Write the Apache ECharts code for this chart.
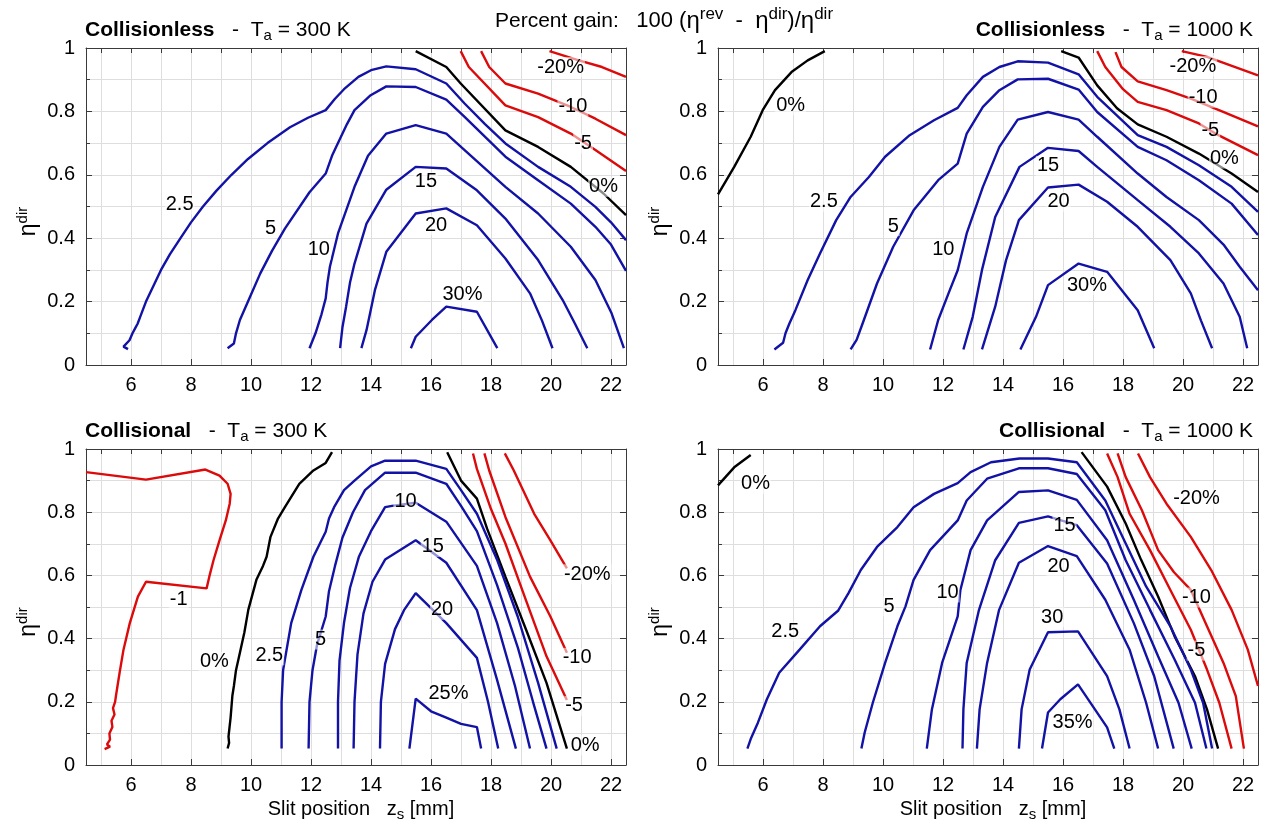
<!DOCTYPE html>
<html>
<head>
<meta charset="utf-8">
<script src="https://cdn.jsdelivr.net/npm/echarts@6/dist/echarts.min.js"></script>
<style>
  html, body { margin: 0; padding: 0; background: #fff; }
  #chart { width: 1267px; height: 833px; }
</style>
</head>
<body>
<div id="chart"></div>
<script>
// Contour lines of the percent gain 100 (eta_rev - eta_dir) / eta_dir
// Each point: [slit position z_s (mm), eta_dir]

// ---- Collisionless, Ta = 300 K ----
const tl_m20 = [[19.95,0.99],[20.9,0.962],[21.7,0.94],[22.5,0.909]];
const tl_m10 = [[17.67,0.99],[17.94,0.94],[18.48,0.888],[19.57,0.856],[20.66,0.814],[21.48,0.777],[22.5,0.725]];
const tl_m5  = [[16.99,0.99],[17.26,0.94],[18.48,0.819],[19.57,0.782],[20.66,0.73],[21.48,0.678],[22.5,0.612]];
const tl_0   = [[15.49,0.99],[16.51,0.94],[16.99,0.888],[18.48,0.74],[19.57,0.688],[20.66,0.625],[21.75,0.541],[22.5,0.473]];
const tl_2_5 = [[5.9,0.05],[5.75,0.058],[5.95,0.078],[6.05,0.1],[6.15,0.118],[6.22,0.13],[6.3,0.15],[6.42,0.18],[6.5,0.2],[6.75,0.25],[7.0,0.3],[7.3,0.35],[7.65,0.4],[8.0,0.45],[8.4,0.5],[8.85,0.55],[9.35,0.6],[9.9,0.65],[10.55,0.7],[11.3,0.75],[11.9,0.78],[12.49,0.804],[12.8,0.84],[13.1,0.87],[13.58,0.909],[14.0,0.93],[14.51,0.942],[15.49,0.933],[16.51,0.888],[17.12,0.825],[17.8,0.76],[18.48,0.699],[19.57,0.625],[20.66,0.562],[21.48,0.499],[22.0,0.45],[22.5,0.394]];
const tl_5   = [[9.22,0.053],[9.43,0.068],[9.5,0.1],[9.63,0.142],[9.9,0.2],[10.31,0.289],[10.7,0.36],[11.13,0.43],[11.95,0.545],[12.49,0.604],[12.7,0.66],[12.9,0.7],[13.2,0.76],[13.45,0.804],[13.99,0.851],[14.51,0.879],[15.49,0.877],[16.51,0.837],[17.12,0.783],[18.48,0.657],[19.57,0.583],[20.66,0.509],[21.48,0.436],[22.0,0.38],[22.5,0.297]];
const tl_10  = [[11.95,0.053],[12.15,0.1],[12.35,0.16],[12.49,0.21],[12.55,0.26],[12.63,0.31],[12.9,0.415],[13.45,0.562],[13.9,0.66],[14.51,0.73],[15.49,0.757],[16.51,0.73],[17.12,0.678],[18.48,0.562],[19.57,0.478],[20.66,0.373],[21.48,0.268],[22.02,0.163],[22.43,0.053]];
const tl_15  = [[12.97,0.053],[13.05,0.12],[13.17,0.184],[13.3,0.26],[13.45,0.32],[13.85,0.446],[14.51,0.553],[15.49,0.625],[16.51,0.62],[17.53,0.551],[18.48,0.462],[19.57,0.331],[20.39,0.205],[20.8,0.13],[21.21,0.053]];
const tl_20  = [[13.68,0.053],[13.85,0.11],[14.13,0.236],[14.51,0.357],[15.49,0.478],[16.51,0.494],[17.53,0.441],[18.48,0.336],[19.3,0.226],[19.7,0.14],[20.05,0.053]];
const tl_30  = [[15.33,0.053],[15.49,0.089],[16.03,0.142],[16.51,0.184],[17.53,0.168],[18.21,0.053]];
const tlLabels = [[20.32,0.94,'-20%'],[20.73,0.816,'-10'],[21.07,0.699,'-5'],[21.75,0.562,'0%'],[7.62,0.507,'2.5'],[10.65,0.431,'5'],[12.26,0.364,'10'],[15.83,0.578,'15'],[16.17,0.441,'20'],[17.05,0.221,'30%']];

// ---- Collisionless, Ta = 1000 K ----
const tr_m20 = [[19.96,0.99],[20.8,0.972],[22.5,0.914]];
const tr_m10 = [[17.75,0.987],[17.95,0.94],[18.49,0.895],[19.45,0.867],[20.26,0.84],[21.3,0.8],[22.5,0.753]];
const tr_m5  = [[17.14,0.99],[17.41,0.94],[18.0,0.87],[18.49,0.83],[19.45,0.804],[20.53,0.762],[21.08,0.73],[22.5,0.662]];
const tr_0a  = [[4.5,0.538],[5.04,0.625],[5.59,0.72],[5.99,0.804],[6.4,0.867],[6.95,0.924],[7.49,0.961],[8.06,0.99]];
const tr_0b  = [[15.94,0.99],[16.52,0.97],[17.14,0.882],[17.8,0.81],[18.49,0.759],[19.45,0.72],[20.53,0.667],[21.62,0.604],[22.5,0.546]];
const tr_2_5 = [[6.38,0.049],[6.67,0.07],[6.75,0.1],[6.88,0.131],[7.08,0.173],[7.49,0.268],[7.9,0.352],[8.44,0.457],[8.92,0.53],[9.53,0.593],[10.07,0.657],[10.89,0.725],[11.7,0.772],[12.49,0.811],[12.79,0.851],[13.33,0.909],[13.88,0.94],[14.49,0.958],[15.5,0.954],[16.52,0.917],[17.14,0.846],[18.49,0.725],[19.45,0.688],[20.53,0.63],[21.62,0.562],[22.5,0.483]];
const tr_5   = [[8.92,0.049],[9.12,0.079],[9.32,0.131],[9.8,0.257],[10.34,0.373],[11.02,0.488],[11.84,0.583],[12.49,0.635],[12.79,0.73],[13.33,0.814],[13.88,0.867],[14.49,0.901],[15.5,0.903],[16.52,0.869],[17.14,0.798],[18.49,0.688],[19.45,0.646],[20.53,0.583],[21.62,0.509],[22.5,0.41]];
const tr_10  = [[11.57,0.049],[11.84,0.142],[12.2,0.23],[12.49,0.299],[12.79,0.415],[13.33,0.562],[13.88,0.688],[14.49,0.774],[15.5,0.798],[16.52,0.774],[17.14,0.72],[18.49,0.604],[19.45,0.53],[20.53,0.457],[21.35,0.38],[21.89,0.31],[22.5,0.236]];
const tr_15  = [[12.68,0.049],[12.99,0.152],[13.3,0.3],[13.74,0.467],[14.55,0.625],[15.5,0.685],[16.52,0.675],[17.14,0.625],[18.49,0.52],[19.58,0.436],[20.53,0.352],[21.35,0.257],[21.89,0.152],[22.14,0.053]];
const tr_20  = [[13.3,0.049],[13.74,0.184],[14.1,0.33],[14.53,0.457],[15.5,0.56],[16.52,0.569],[17.47,0.515],[18.49,0.436],[19.58,0.331],[20.26,0.226],[20.6,0.14],[20.97,0.053]];
const tr_30  = [[14.58,0.049],[15.1,0.152],[15.5,0.252],[16.52,0.32],[17.47,0.294],[18.49,0.173],[19.04,0.053]];
const trLabels = [[6.92,0.82,'0%'],[21.38,0.651,'0%'],[20.91,0.74,'-5'],[20.67,0.843,'-10'],[20.33,0.943,'-20%'],[8.03,0.515,'2.5'],[10.34,0.438,'5'],[12.01,0.364,'10'],[15.5,0.628,'15'],[15.85,0.515,'20'],[16.8,0.252,'30%']];

// ---- Collisional, Ta = 300 K ----
const bl_m1  = [[4.5,0.927],[6.5,0.903],[8.48,0.935],[8.95,0.916],[9.22,0.89],[9.32,0.858],[9.29,0.827],[9.16,0.774],[8.95,0.711],[8.75,0.648],[8.61,0.596],[8.52,0.559],[6.5,0.58],[6.23,0.533],[5.96,0.449],[5.75,0.365],[5.62,0.292],[5.55,0.25],[5.5,0.22],[5.47,0.2],[5.4,0.18],[5.45,0.16],[5.35,0.14],[5.38,0.12],[5.28,0.1],[5.3,0.08],[5.2,0.065],[5.3,0.058],[5.12,0.05]];
const bl_0a  = [[9.22,0.052],[9.27,0.07],[9.25,0.09],[9.32,0.15],[9.38,0.22],[9.43,0.25],[9.5,0.3],[9.63,0.355],[9.78,0.42],[9.91,0.491],[10.18,0.586],[10.4,0.63],[10.52,0.659],[10.65,0.722],[10.9,0.78],[11.13,0.816],[11.61,0.89],[12.08,0.932],[12.49,0.956],[12.7,0.99]];
const bl_0b  = [[16.54,0.99],[17.0,0.9],[17.53,0.843],[17.87,0.748],[18.48,0.596],[19.17,0.428],[19.85,0.26],[20.53,0.052]];
const bl_m5  = [[17.4,0.986],[17.53,0.937],[18.0,0.81],[18.48,0.701],[19.17,0.52],[19.85,0.344],[20.53,0.206]];
const bl_m10 = [[17.78,0.986],[17.94,0.932],[18.48,0.785],[19.3,0.596],[19.98,0.47],[20.53,0.355]];
const bl_m20 = [[18.46,0.986],[18.76,0.932],[19.44,0.795],[19.98,0.711],[20.53,0.622]];
const bl_2_5 = [[11.02,0.052],[11.02,0.2],[11.07,0.3],[11.13,0.334],[11.34,0.449],[11.68,0.554],[12.08,0.659],[12.49,0.738],[12.6,0.78],[12.77,0.816],[13.1,0.87],[13.45,0.9],[14.0,0.945],[14.47,0.963],[15.49,0.963],[16.51,0.937],[17.0,0.87],[17.53,0.795],[18.21,0.648],[18.89,0.47],[19.57,0.26],[20.19,0.052]];
const bl_5   = [[11.92,0.052],[11.95,0.2],[12.05,0.3],[12.2,0.38],[12.49,0.47],[12.6,0.55],[12.8,0.63],[13.05,0.72],[13.4,0.8],[13.8,0.87],[14.47,0.925],[15.49,0.925],[16.51,0.89],[17.0,0.82],[17.53,0.74],[18.2,0.57],[18.9,0.37],[19.4,0.2],[19.85,0.052]];
const bl_10  = [[12.9,0.052],[12.9,0.2],[12.95,0.33],[13.1,0.45],[13.3,0.56],[13.6,0.66],[14.0,0.74],[14.47,0.816],[14.7,0.82],[15.49,0.83],[16.51,0.77],[17.53,0.63],[18.2,0.45],[18.8,0.25],[19.3,0.052]];
const bl_15  = [[13.42,0.052],[13.45,0.2],[13.55,0.35],[13.75,0.48],[14.05,0.58],[14.47,0.65],[15.49,0.711],[16.51,0.64],[17.53,0.49],[18.2,0.27],[18.83,0.052]];
const bl_20  = [[14.3,0.052],[14.33,0.2],[14.47,0.32],[14.8,0.43],[15.1,0.49],[15.49,0.544],[16.51,0.449],[17.53,0.339],[17.9,0.2],[18.24,0.052]];
const bl_25  = [[15.28,0.052],[15.49,0.21],[16.0,0.17],[16.51,0.15],[17.0,0.13],[17.53,0.12],[17.67,0.052]];
const blLabels = [[7.59,0.525,'-1'],[8.78,0.326,'0%'],[10.61,0.347,'2.5'],[12.32,0.397,'5'],[15.15,0.835,'10'],[16.06,0.69,'15'],[16.37,0.491,'20'],[16.58,0.227,'25%'],[21.21,0.604,'-20%'],[20.87,0.339,'-10'],[20.77,0.187,'-5'],[21.14,0.063,'0%']];

// ---- Collisional, Ta = 1000 K ----
const br_0a  = [[4.5,0.885],[5.04,0.942],[5.59,0.981]];
const br_0b  = [[16.62,0.99],[17.47,0.881],[18.09,0.764],[18.6,0.65],[19.17,0.533],[19.72,0.407],[20.4,0.281],[20.8,0.176],[21.17,0.052]];
const br_m5  = [[17.47,0.986],[17.82,0.911],[18.22,0.795],[18.9,0.68],[19.6,0.55],[20.26,0.428],[20.8,0.302],[21.21,0.197],[21.62,0.052]];
const br_m10 = [[17.82,0.986],[18.09,0.911],[18.63,0.806],[19.17,0.68],[19.7,0.61],[20.26,0.554],[20.8,0.439],[21.35,0.323],[21.76,0.218],[22.03,0.052]];
const br_m20 = [[18.5,0.986],[18.9,0.911],[19.45,0.827],[20.26,0.722],[20.94,0.617],[21.62,0.491],[22.16,0.365],[22.5,0.25]];
const br_2_5 = [[5.48,0.052],[5.59,0.082],[5.83,0.134],[6.13,0.208],[6.54,0.292],[7.22,0.365],[7.9,0.439],[8.51,0.489],[8.85,0.544],[9.26,0.617],[9.8,0.69],[10.48,0.753],[11.02,0.816],[11.7,0.858],[12.49,0.892],[12.92,0.927],[13.6,0.958],[14.55,0.97],[15.5,0.97],[16.46,0.958],[17.41,0.837],[18.09,0.701],[18.77,0.565],[19.58,0.439],[20.26,0.302],[20.67,0.197],[20.97,0.052]];
const br_5   = [[9.28,0.052],[9.39,0.103],[9.66,0.197],[10.07,0.323],[10.48,0.439],[10.75,0.502],[11.02,0.586],[11.57,0.68],[12.49,0.774],[12.79,0.837],[13.47,0.906],[14.53,0.939],[15.5,0.939],[16.46,0.921],[17.41,0.806],[18.09,0.648],[18.9,0.491],[19.72,0.334],[20.4,0.197],[20.78,0.052]];
const br_10  = [[11.46,0.052],[11.63,0.176],[11.97,0.323],[12.49,0.47],[12.58,0.554],[12.92,0.68],[13.47,0.774],[14.53,0.864],[15.5,0.869],[16.46,0.839],[17.47,0.711],[18.36,0.523],[19.17,0.344],[19.85,0.197],[20.29,0.052]];
const br_15  = [[12.65,0.052],[12.68,0.176],[12.79,0.323],[13.2,0.491],[13.74,0.648],[14.53,0.766],[15.5,0.787],[16.46,0.759],[17.47,0.638],[18.36,0.449],[19.04,0.281],[19.69,0.052]];
const br_20  = [[13.13,0.052],[13.22,0.176],[13.47,0.323],[13.87,0.491],[14.53,0.64],[15.5,0.693],[16.46,0.661],[17.41,0.523],[18.22,0.365],[18.77,0.197],[19.17,0.052]];
const br_30  = [[14.53,0.052],[14.62,0.176],[14.89,0.302],[15.5,0.42],[16.5,0.423],[17.47,0.281],[17.88,0.176],[18.22,0.052]];
const br_35  = [[15.3,0.052],[15.5,0.166],[15.91,0.208],[16.5,0.255],[17.47,0.119],[17.71,0.052]];
const brLabels = [[5.75,0.89,'0%'],[6.74,0.423,'2.5'],[10.2,0.502,'5'],[12.15,0.546,'10'],[16.05,0.759,'15'],[15.85,0.627,'20'],[15.64,0.468,'30'],[16.32,0.134,'35%'],[20.45,0.843,'-20%'],[20.45,0.53,'-10'],[20.45,0.362,'-5']];

const BLUE = '#1212a6', RED = '#dc0a0a', BLACK = '#000000';
const FONT = '"Liberation Sans", Arial, Helvetica, sans-serif';

const panels = [
  { lines: [[tl_m20,RED],[tl_m10,RED],[tl_m5,RED],[tl_0,BLACK],[tl_2_5,BLUE],[tl_5,BLUE],[tl_10,BLUE],[tl_15,BLUE],[tl_20,BLUE],[tl_30,BLUE]], labels: tlLabels },
  { lines: [[tr_m20,RED],[tr_m10,RED],[tr_m5,RED],[tr_0a,BLACK],[tr_0b,BLACK],[tr_2_5,BLUE],[tr_5,BLUE],[tr_10,BLUE],[tr_15,BLUE],[tr_20,BLUE],[tr_30,BLUE]], labels: trLabels },
  { lines: [[bl_m1,RED],[bl_0a,BLACK],[bl_0b,BLACK],[bl_m5,RED],[bl_m10,RED],[bl_m20,RED],[bl_2_5,BLUE],[bl_5,BLUE],[bl_10,BLUE],[bl_15,BLUE],[bl_20,BLUE],[bl_25,BLUE]], labels: blLabels },
  { lines: [[br_0a,BLACK],[br_0b,BLACK],[br_m5,RED],[br_m10,RED],[br_m20,RED],[br_2_5,BLUE],[br_5,BLUE],[br_10,BLUE],[br_15,BLUE],[br_20,BLUE],[br_30,BLUE],[br_35,BLUE]], labels: brLabels }
];

const grids = [
  { left: 86, top: 48, width: 540, height: 317 },
  { left: 718, top: 48, width: 540, height: 317 },
  { left: 86, top: 449, width: 540, height: 316 },
  { left: 718, top: 449, width: 540, height: 316 }
];

const FRAME = '#3a3a3a', GRIDC = '#dedede';
const xAxes = [], yAxes = [], series = [];

grids.forEach((g, p) => {
  const bottomRow = p >= 2;
  // bottom axis: labelled ticks every 2 mm
  xAxes.push({
    type: 'value', gridIndex: p, position: 'bottom', min: 4.5, max: 22.5, splitNumber: 9,
    axisLine: { onZero: false, lineStyle: { color: FRAME, width: 1 } },
    axisTick: { inside: true, length: 6, lineStyle: { color: FRAME } },
    axisLabel: { color: '#000', fontSize: 20, fontFamily: FONT, margin: 10, showMinLabel: false, showMaxLabel: false },
    splitLine: { show: false },
    name: bottomRow ? 'Slit position   z{s|s} [mm]' : '',
    nameLocation: 'middle', nameGap: 32,
    nameTextStyle: { color: '#000', fontSize: 20, fontFamily: FONT, padding: [0, 0, 0, 10],
      rich: { s: { fontSize: 15, fontFamily: FONT, padding: [10, 0, 0, 0] } } }
  });
  // top axis: ticks and vertical grid lines every 1 mm
  xAxes.push({
    type: 'value', gridIndex: p, position: 'top', min: 4.5, max: 22.5, splitNumber: 18,
    axisLine: { onZero: false, lineStyle: { color: FRAME, width: 1 } },
    axisTick: { inside: true, length: 5, lineStyle: { color: FRAME } },
    axisLabel: { show: false },
    splitLine: { show: true, lineStyle: { color: GRIDC, width: 1 } }
  });
  yAxes.push({
    type: 'value', gridIndex: p, position: 'left', min: 0, max: 1, interval: 0.2,
    axisLine: { onZero: false, lineStyle: { color: FRAME, width: 1 } },
    axisTick: { inside: true, length: 6, lineStyle: { color: FRAME } },
    minorTick: { show: true, splitNumber: 2, length: 4, lineStyle: { color: FRAME } },
    axisLabel: { color: '#000', fontSize: 20, fontFamily: FONT, margin: 11 },
    splitLine: { show: true, lineStyle: { color: GRIDC, width: 1 } },
    minorSplitLine: { show: true, lineStyle: { color: GRIDC, width: 1 } },
    name: '\u03b7{p|dir}', nameLocation: 'middle', nameRotate: 90, nameGap: 44,
    nameTextStyle: { color: '#000', fontSize: 23, fontFamily: FONT, padding: [0, 30, 0, 0],
      rich: { p: { fontSize: 15, fontFamily: FONT, padding: [0, 0, 12, 0] } } }
  });
  yAxes.push({
    type: 'value', gridIndex: p, position: 'right', min: 0, max: 1, interval: 0.2,
    axisLine: { onZero: false, lineStyle: { color: FRAME, width: 1 } },
    axisTick: { inside: true, length: 6, lineStyle: { color: FRAME } },
    axisLabel: { show: false },
    splitLine: { show: false }
  });

  panels[p].lines.forEach(([pts, col]) => {
    series.push({
      type: 'line', xAxisIndex: 2 * p, yAxisIndex: 2 * p, data: pts,
      showSymbol: false, symbol: 'none', smooth: false, silent: true, clip: true,
      lineStyle: { color: col, width: 2.4 }, z: 3
    });
  });
  series.push({
    type: 'scatter', xAxisIndex: 2 * p, yAxisIndex: 2 * p, data: panels[p].labels,
    symbolSize: 0, silent: true, z: 5, itemStyle: { opacity: 1 },
    label: { show: true, position: 'inside', formatter: d => d.value[2],
      color: '#000', fontSize: 20, fontFamily: FONT,
      backgroundColor: 'rgba(255,255,255,0.55)', padding: [0, 1] }
  });
});

const richTitle = {
  b: { fontWeight: 'bold', fontSize: 21, fontFamily: FONT, color: '#000' },
  s: { fontSize: 15, fontFamily: FONT, color: '#000', padding: [11, 0, 0, 0] },
  p: { fontSize: 17, fontFamily: FONT, color: '#000', padding: [0, 0, 13, 0] },
  e: { fontSize: 24, fontFamily: FONT, color: '#000' },
  n: { fontSize: 22, fontFamily: FONT, color: '#000' }
};
const tStyle = { fontSize: 21, fontWeight: 'normal', fontFamily: FONT, color: '#000', rich: richTitle };

const option = {
  animation: false,
  backgroundColor: '#ffffff',
  title: [
    { text: '{b|Collisionless}   -  T{s|a} = 300 K', left: 80, top: 12, textStyle: tStyle },
    { text: '{b|Collisionless}   -  T{s|a} = 1000 K', right: 9, top: 12, textStyle: tStyle },
    { text: 'Percent gain:   {n|100 (}{e|\u03b7}{p|rev}{n|  -  }{e|\u03b7}{p|dir}{n|)/}{e|\u03b7}{p|dir}', left: 490, top: 1, textStyle: tStyle },
    { text: '{b|Collisional}   -  T{s|a} = 300 K', left: 80, top: 413, textStyle: tStyle },
    { text: '{b|Collisional}   -  T{s|a} = 1000 K', right: 9, top: 413, textStyle: tStyle }
  ],
  grid: grids.map(g => Object.assign({ containLabel: false }, g)),
  xAxis: xAxes,
  yAxis: yAxes,
  series: series
};

const chart = echarts.init(document.getElementById('chart'), null, { renderer: 'canvas' });
chart.setOption(option);
</script>
</body>
</html>
